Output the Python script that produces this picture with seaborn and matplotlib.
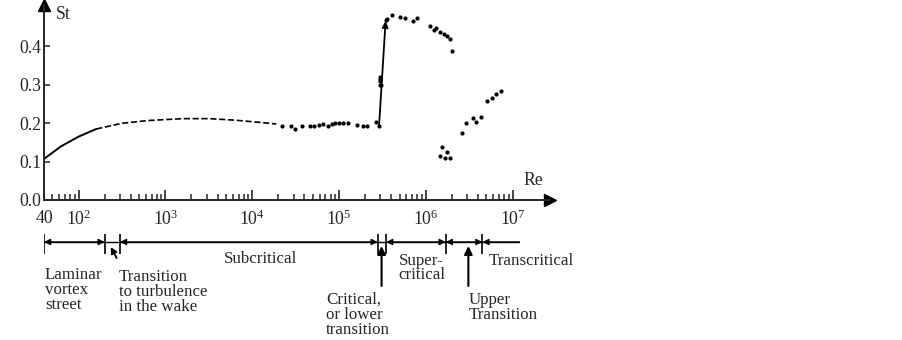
import numpy as np
import pandas as pd
import matplotlib
matplotlib.use("Agg")
import matplotlib.pyplot as plt
import matplotlib.ticker as mticker
import seaborn as sns

# Datos (Re, St)
curve_re = [40, 63, 100, 160, 320, 630, 1600, 3200, 6300, 12600, 19000]
curve_st = [0.107, 0.14, 0.165, 0.185, 0.200, 0.207, 0.212, 0.212, 0.208, 0.202, 0.198]

sub_re = [2.2e4, 2.8e4, 3.1e4, 3.8e4, 4.6e4, 5.2e4, 5.9e4, 6.5e4, 7.4e4, 8.3e4,
          9.1e4, 1.0e5, 1.1e5, 1.26e5, 1.6e5, 1.9e5, 2.1e5, 2.7e5, 2.9e5]
sub_st = [0.194, 0.194, 0.186, 0.192, 0.194, 0.194, 0.196, 0.198, 0.194, 0.198,
          0.200, 0.200, 0.200, 0.200, 0.195, 0.192, 0.192, 0.204, 0.193]

crit_re = [2.95e5, 3.0e5, 2.95e5, 3.05e5, 3.0e5]
crit_st = [0.320, 0.310, 0.300, 0.300, 0.315]

top_re = [3.5e5, 3.6e5, 4.1e5, 5.0e5, 5.8e5, 7.1e5, 7.9e5, 1.12e6, 1.26e6, 1.32e6,
          1.48e6, 1.62e6, 1.74e6, 1.9e6, 2.0e6]
top_st = [0.468, 0.472, 0.482, 0.476, 0.473, 0.466, 0.473, 0.454, 0.442, 0.447,
          0.438, 0.433, 0.426, 0.420, 0.389]

low_re = [1.55e6, 1.74e6, 1.48e6, 1.66e6, 1.9e6]
low_st = [0.139, 0.126, 0.115, 0.110, 0.110]

rise_re = [2.6e6, 2.95e6, 3.5e6, 3.8e6, 4.3e6, 5.1e6, 5.8e6, 6.5e6, 7.4e6]
rise_st = [0.174, 0.200, 0.214, 0.204, 0.216, 0.258, 0.267, 0.276, 0.285]

jump_re = [2.9e5, 3.45e5]
jump_st = [0.193, 0.466]

# Regimenes de flujo
bounds = [40, 200, 300, 2.8e5, 3.5e5, 1.7e6, 4.5e6]
line_end = 1.2e7
critical_re = 3.1e5
upper_re = 3.1e6

sns.set_style("white")
plt.rcParams["font.family"] = ["Liberation Serif", "DejaVu Serif"]
plt.rcParams["mathtext.fontset"] = "custom"
plt.rcParams["mathtext.rm"] = "Liberation Serif"

fig = plt.figure(figsize=(9.03, 3.4), dpi=100)
W, H = 903, 340
x0, x1 = 44, 550
ax = fig.add_axes([x0 / W, 140 / H, (x1 - x0) / W, 195 / H])

df_curve = pd.DataFrame({"Re": curve_re, "St": curve_st})
sns.lineplot(data=df_curve.iloc[:4], x="Re", y="St", ax=ax, color="black", lw=1.4)
sns.lineplot(data=df_curve.iloc[3:], x="Re", y="St", ax=ax, color="black", lw=1.2,
             dashes=(7, 1.5), linestyle="--")

pts = pd.DataFrame({"Re": sub_re + crit_re + top_re + low_re + rise_re,
                    "St": sub_st + crit_st + top_st + low_st + rise_st})
sns.scatterplot(data=pts, x="Re", y="St", ax=ax, color="black", s=9, linewidth=0)

ax.annotate("", xy=(jump_re[1], jump_st[1]), xytext=(jump_re[0], jump_st[0]),
            arrowprops=dict(arrowstyle="-|>", color="black", lw=1.3,
                            shrinkA=0, shrinkB=0, mutation_scale=9))

ax.set_xscale("log")
ax.set_xlim(40, 10 ** 7.432)
ax.set_ylim(0, 0.508)
ax.set_xlabel("")
ax.set_ylabel("")

major = [40, 1e2, 1e3, 1e4, 1e5, 1e6, 1e7]
labels = ["40"] + [r"$\mathregular{10^{%d}}$" % k for k in range(2, 8)]
minor = [m * 10 ** k for k in range(1, 7) for m in range(2, 10) if 40 < m * 10 ** k < 1e7]
ax.xaxis.set_major_locator(mticker.FixedLocator(major))
ax.xaxis.set_major_formatter(mticker.FixedFormatter(labels))
ax.xaxis.set_minor_locator(mticker.FixedLocator(minor))
ax.xaxis.set_minor_formatter(mticker.NullFormatter())
ax.set_yticks([0.0, 0.1, 0.2, 0.3, 0.4])
ax.set_yticklabels(["0.0", "0.1", "0.2", "0.3", "0.4"])
ax.tick_params(axis="x", which="both", bottom=True)
ax.tick_params(axis="y", left=True)
ax.tick_params(axis="x", which="major", direction="in", length=7, width=1.2,
               labelsize=12.8, pad=7)
ax.tick_params(axis="x", which="minor", direction="in", length=4, width=1.1)
ax.tick_params(axis="y", direction="in", length=4, width=1.1, labelsize=12.8, pad=2)

for s in ["top", "right"]:
    ax.spines[s].set_visible(False)
for s in ["left", "bottom"]:
    ax.spines[s].set_linewidth(1.4)
ax.plot(1, 0, ">k", transform=ax.transAxes, clip_on=False, markersize=8)
ax.plot(0, 1, "^k", transform=ax.transAxes, clip_on=False, markersize=8)
ax.text(0.024, 0.95, "St", transform=ax.transAxes, fontsize=12.8, va="center")
ax.text(0.948, 0.10, "Re", transform=ax.transAxes, fontsize=12.8, va="center")

# Eje inferior con los regimenes
ax2 = fig.add_axes([x0 / W, 0, (x1 - x0) / W, 135 / H])
ax2.set_xscale("log")
ax2.set_xlim(ax.get_xlim())
ax2.set_ylim(340, 205)
ax2.axis("off")

yl = 242
ax2.plot([bounds[0], line_end], [yl, yl], color="black", lw=1)
ax2.vlines(bounds, 234, 254, color="black", lw=1.2)

def dim_arrow(a, b, style="<|-|>"):
    ax2.annotate("", xy=(b, yl), xytext=(a, yl),
                 arrowprops=dict(arrowstyle=style, color="black", lw=1,
                                 shrinkA=0, shrinkB=0, mutation_scale=9))

dim_arrow(bounds[0], bounds[1])
dim_arrow(bounds[2], bounds[3])
dim_arrow(bounds[4], bounds[5])
dim_arrow(bounds[5], bounds[6])
dim_arrow(bounds[6], line_end, style="<|-")

up = dict(arrowstyle="-|>", color="black", lw=1.5, shrinkA=0, shrinkB=0, mutation_scale=12)
ax2.annotate("", xy=(critical_re, 246), xytext=(critical_re, 286), arrowprops=up)
ax2.annotate("", xy=(upper_re, 246), xytext=(upper_re, 286), arrowprops=up)
ax2.annotate("", xy=(235, 247), xytext=(275, 258),
             arrowprops=dict(arrowstyle="-|>", color="black", lw=1.3,
                             shrinkA=0, shrinkB=0, mutation_scale=9))

fs = 12.2
ls = 0.9
ax2.text(41, 267, "Laminar\nvortex\nstreet", fontsize=fs, va="top", linespacing=ls)
ax2.text(290, 269, "Transition\nto turbulence\nin the wake", fontsize=fs, va="top", linespacing=ls)
ax2.text(1.25e4, 259, "Subcritical", fontsize=fs, va="center", ha="center")
ax2.text(4.9e5, 253, "Super-\ncritical", fontsize=fs, va="top", linespacing=0.8)
ax2.text(5.3e6, 261, "Transcritical", fontsize=fs, va="center")
ax2.text(7.1e4, 292, "Critical,\nor lower\ntransition", fontsize=fs, va="top", linespacing=ls)
ax2.text(upper_re, 292, "Upper\nTransition", fontsize=fs, va="top", linespacing=ls)

fig.savefig("out.png", dpi=100)
